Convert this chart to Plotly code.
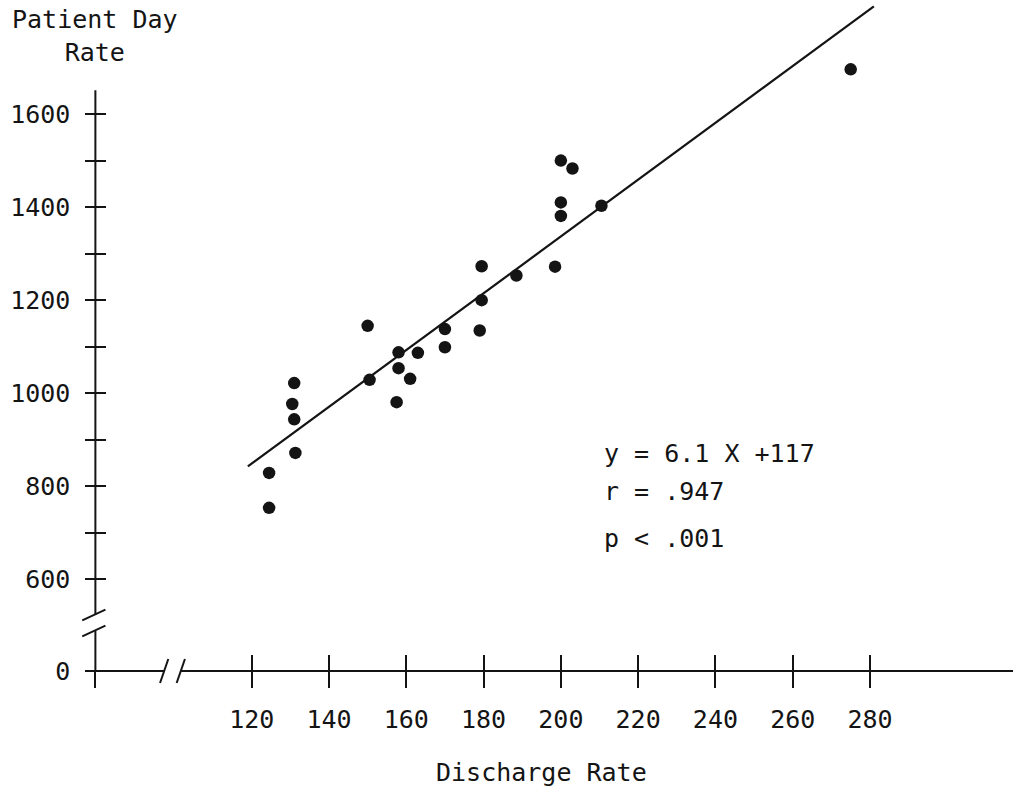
import plotly.graph_objects as go

# ---------------- data ----------------
discharge_rate = [150, 179.5, 179, 170, 170, 158, 163, 158, 161, 150.5, 157.5,
                  131, 130.5, 131, 131.3, 124.5, 124.5,
                  200, 203, 200, 200, 210.5, 179.5, 188.5, 198.5, 275]
patient_day_rate = [1145, 1200, 1135, 1138, 1099, 1088, 1087, 1054, 1031, 1029, 981,
                    1022, 977, 944, 872, 829, 754,
                    1500, 1483, 1410, 1381, 1403, 1273, 1253, 1272, 1696]

fit_slope = 6.1
fit_intercept = 117
fit_x = [119, 281]
fit_y = [fit_slope * v + fit_intercept for v in fit_x]

x_tick_vals = [120, 140, 160, 180, 200, 220, 240, 260, 280]
x_tick_text = [str(v) for v in x_tick_vals]
y_tick_vals = [600, 700, 800, 900, 1000, 1100, 1200, 1300, 1400, 1500, 1600]
y_tick_text = ["600", "", "800", "", "1000", "", "1200", "", "1400", "", "1600"]

stats_lines = ["y = 6.1 X +117", "r = .947", "p &lt; .001"]

# ---------------- broken-axis geometry (axis units) ----------------
X_RANGE = [72.98, 317.0]
Y_RANGE = [341.1, 1834.2]
X_ORIGIN = 79.55        # where the (broken) y axis stands on the x scale
Y_ZERO_POS = 403.4      # where "0" sits on the (broken) y scale
Y_AXIS_TOP = 1651
X_BREAK = (97.35, 101.65)
Y_BREAK = (489.4, 523.8)

INK = "#141414"
FONT = "DejaVu Sans Mono"

fig = go.Figure()

fig.add_trace(go.Scatter(
    x=fit_x, y=fit_y, mode="lines",
    line=dict(color=INK, width=2.2), hoverinfo="skip", showlegend=False))

fig.add_trace(go.Scatter(
    x=discharge_rate, y=patient_day_rate, mode="markers",
    marker=dict(color=INK, size=12.5, line=dict(width=0)),
    showlegend=False, cliponaxis=False))

# invisible carrier so the overlaid (inside-tick) axes get drawn
fig.add_trace(go.Scatter(x=[None], y=[None], xaxis="x2", yaxis="y2",
                         mode="markers", hoverinfo="skip", showlegend=False))

def seg(x0, y0, x1, y1, w=2.0):
    return dict(type="line", xref="x", yref="y", x0=x0, y0=y0, x1=x1, y1=y1,
                line=dict(color=INK, width=w), layer="above")

shapes = []
# y axis (upper and lower pieces)
shapes.append(seg(X_ORIGIN, Y_BREAK[1], X_ORIGIN, Y_AXIS_TOP))
shapes.append(seg(X_ORIGIN, Y_ZERO_POS, X_ORIGIN, Y_BREAK[0]))
# x axis (left and right pieces)
shapes.append(seg(X_ORIGIN - 2.2, Y_ZERO_POS, X_BREAK[0], Y_ZERO_POS))
shapes.append(seg(X_BREAK[1], Y_ZERO_POS, X_RANGE[1], Y_ZERO_POS))
# break marks
for yc in Y_BREAK:
    shapes.append(seg(X_ORIGIN - 3.4, yc - 11.5, X_ORIGIN + 2.6, yc + 11.5, 2.0))
for xc in X_BREAK:
    shapes.append(seg(xc - 1.07, Y_ZERO_POS - 25.8, xc + 1.07, Y_ZERO_POS + 25.8, 2.0))

x_pos = (Y_ZERO_POS - Y_RANGE[0]) / (Y_RANGE[1] - Y_RANGE[0])
y_pos = (X_ORIGIN - X_RANGE[0]) / (X_RANGE[1] - X_RANGE[0])

tickfont = dict(family=FONT, size=25, color=INK)
common = dict(showgrid=False, zeroline=False, showline=False, tickcolor=INK, tickwidth=1.6)

fig.update_layout(
    width=1013, height=799,
    margin=dict(l=70, r=0, t=5, b=99, autoexpand=False),
    paper_bgcolor="white", plot_bgcolor="white",
    showlegend=False,
    shapes=shapes,
    xaxis=dict(range=X_RANGE, anchor="free", position=x_pos, domain=[0, 1],
               tickmode="array", tickvals=[X_ORIGIN] + x_tick_vals,
               ticktext=[""] + x_tick_text, ticks="outside", ticklen=16,
               tickfont=tickfont, ticklabelstandoff=10, **common),
    xaxis2=dict(range=X_RANGE, anchor="free", position=x_pos, overlaying="x",
                tickmode="array", tickvals=x_tick_vals, ticks="inside", ticklen=16,
                showticklabels=False, **common),
    yaxis=dict(range=Y_RANGE, anchor="free", position=y_pos, domain=[0, 1],
               tickmode="array", tickvals=[Y_ZERO_POS] + y_tick_vals,
               ticktext=["0"] + y_tick_text, ticks="outside", ticklen=10,
               tickfont=tickfont, ticklabelstandoff=10, **common),
    yaxis2=dict(range=Y_RANGE, anchor="free", position=y_pos, overlaying="y",
                tickmode="array", tickvals=y_tick_vals, ticks="inside", ticklen=10,
                showticklabels=False, **common),
)

textfont = dict(family=FONT, size=25, color=INK)
annotations = [
    dict(text="Patient Day<br>Rate", xref="x", yref="y", x=X_ORIGIN, y=1768,
         xanchor="center", yanchor="middle", showarrow=False, font=textfont, align="center"),
    dict(text="Discharge Rate", xref="paper", yref="paper", x=0.5, y=-0.1036,
         xanchor="center", yanchor="middle", showarrow=False, font=textfont),
]
stat_y = [870, 790, 689]
for t, yy in zip(stats_lines, stat_y):
    annotations.append(dict(text=t, xref="x", yref="y", x=210.6, y=yy,
                            xanchor="left", yanchor="middle", showarrow=False, font=textfont))
fig.update_layout(annotations=annotations)

fig.write_html("out.html", config={"displayModeBar": False},
               post_script="document.body.style.margin='0';document.body.style.overflow='hidden';")
